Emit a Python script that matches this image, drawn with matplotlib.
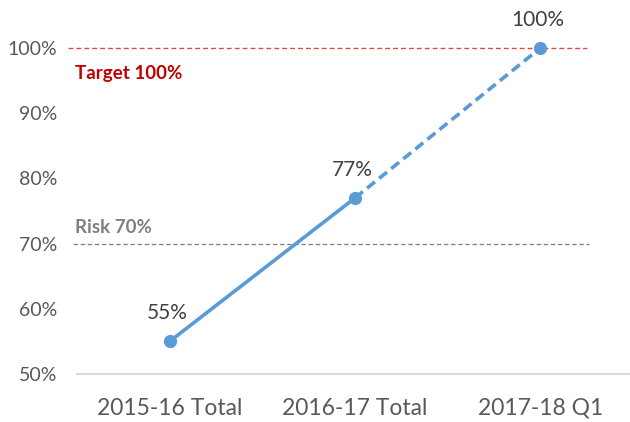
import matplotlib
matplotlib.use('Agg')
import matplotlib.pyplot as plt
from matplotlib.ticker import PercentFormatter

categories = ['2015-16 Total', '2016-17 Total', '2017-18 Q1']
values = [0.55, 0.77, 1.00]
n_actual = 2          # first two points are actuals, last segment is projected
target = 1.00
risk = 0.70
yticks = [0.5, 0.6, 0.7, 0.8, 0.9, 1.0]

BLUE = '#5B9BD5'
TXT = '#595959'

plt.rcParams.update({'font.family': ['Lato', 'DejaVu Sans'], 'font.size': 13})

fig = plt.figure(figsize=(6.3, 4.22), dpi=100)
ax = fig.add_axes([77 / 630, 1 - 374 / 422, 556 / 630, 326 / 422])

x = list(range(len(categories)))
ax.plot(x[:n_actual], values[:n_actual], color=BLUE, lw=2.6, solid_capstyle='round', clip_on=False)
ax.plot(x[n_actual - 1:], values[n_actual - 1:], color=BLUE, lw=2.6, ls=(0, (2.8, 1.5)), clip_on=False)
ax.plot(x, values, 'o', color=BLUE, ms=8.5, clip_on=False)
for xi, v in zip(x, values):
    ax.annotate(f'{v:.0%}', (xi, v), xytext=(-2, 13), textcoords='offset points',
                ha='center', va='bottom', color='#404040', fontsize=15)

# reference lines
ax.axhline(target, xmin=-0.016, xmax=0.917, color='#E04848', lw=1, ls=(0, (3.5, 2.2)), clip_on=False, zorder=1)
ax.axhline(risk, xmin=-0.007, xmax=0.92, color='#7F7F7F', lw=0.9, ls=(0, (3.5, 2.2)), clip_on=False, zorder=1)
ax.text(-0.51, target - 0.039, 'Target 100%', color='#C00000', fontweight='bold', fontsize=13.5,
        ha='left', va='center')
ax.text(-0.51, risk + 0.025, 'Risk 70%', color='#7F7F7F', fontweight='bold', fontsize=13.5,
        ha='left', va='center')

ax.set_xlim(-0.5, 2.5)
ax.set_ylim(0.5, 1.0)
ax.set_xticks(x)
ax.set_xticklabels(categories, fontsize=16.5, color=TXT)
ax.set_yticks(yticks)
ax.yaxis.set_major_formatter(PercentFormatter(1.0, decimals=0))
ax.tick_params(axis='y', colors=TXT, labelsize=14, length=0, pad=14)
ax.tick_params(axis='x', length=0, pad=17)
for s in ['top', 'right', 'left']:
    ax.spines[s].set_visible(False)
ax.spines['bottom'].set_color('#D9D9D9')
ax.spines['bottom'].set_linewidth(1.5)

fig.savefig('out.png', dpi=100, facecolor='white')
